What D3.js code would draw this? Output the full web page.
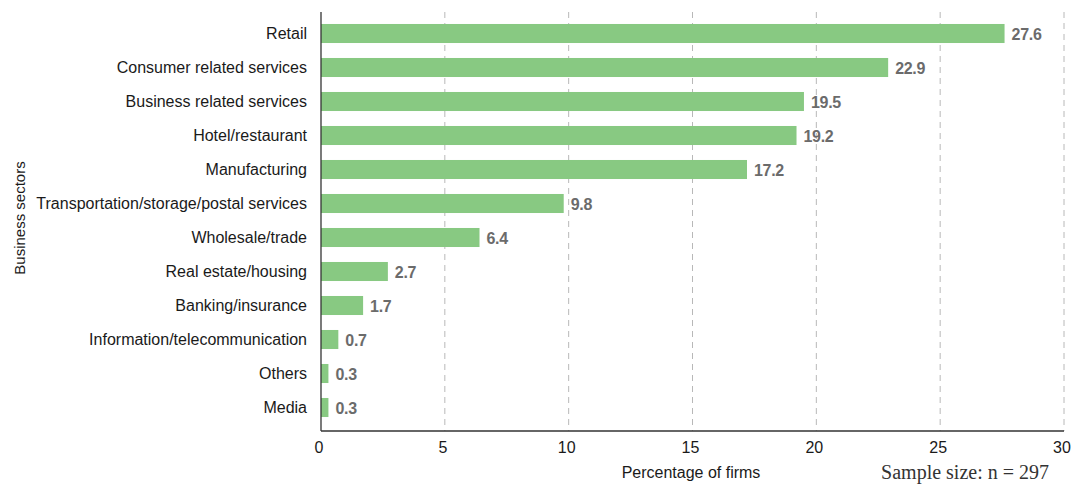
<!DOCTYPE html>
<html>
<head>
<meta charset="utf-8">
<script src="https://cdn.jsdelivr.net/npm/d3@7"></script>
<style>
  body { margin: 0; background: #fff; }
  svg { display: block; font-family: "Liberation Sans", Arial, sans-serif; }
</style>
</head>
<body>
<svg class="main" width="1073" height="486"></svg>
<script>
'use strict';

var sectors = ['Retail', 'Consumer related services', 'Business related services', 'Hotel/restaurant',
    'Manufacturing', 'Transportation/storage/postal services', 'Wholesale/trade', 'Real estate/housing',
    'Banking/insurance', 'Information/telecommunication', 'Others', 'Media'];
var shares = [27.6, 22.9, 19.5, 19.2, 17.2, 9.8, 6.4, 2.7, 1.7, 0.7, 0.3, 0.3];
var xTicks = [0, 5, 10, 15, 20, 25, 30];

(function () {
    var data = sectors.map(function (s, i) { return {name: s, value: shares[i]}; });

    var plotLeft = 321, plotRight = 1064, plotTop = 12, plotBottom = 431;

    var svg = d3.select('svg.main');

    var x = d3.scaleLinear().domain([0, 30]).range([plotLeft, plotRight]);
    var y = d3.scaleBand().domain(sectors).range([16.5, 424.5]).paddingInner(0.44).paddingOuter(0.22);

    // dashed grid
    svg.append('g')
        .selectAll('line')
        .data(xTicks.slice(1))
        .enter()
        .append('line')
        .attr('x1', function (d) { return x(d); })
        .attr('x2', function (d) { return x(d); })
        .attr('y1', plotTop)
        .attr('y2', plotBottom)
        .attr('stroke', '#b8b8b8')
        .attr('stroke-width', 1)
        .attr('stroke-dasharray', '6,5');

    // bars
    svg.append('g')
        .selectAll('rect')
        .data(data)
        .enter()
        .append('rect')
        .attr('x', x(0))
        .attr('y', function (d) { return y(d.name); })
        .attr('width', function (d) { return x(d.value) - x(0); })
        .attr('height', y.bandwidth())
        .attr('fill', '#88c982');

    // value labels
    svg.append('g')
        .selectAll('text')
        .data(data)
        .enter()
        .append('text')
        .attr('x', function (d) { return x(d.value) + 7; })
        .attr('y', function (d) { return y(d.name) + y.bandwidth() / 2; })
        .attr('dy', '0.38em')
        .attr('font-size', 16)
        .attr('font-weight', 'bold')
        .attr('letter-spacing', -0.3)
        .attr('fill', '#6b6b6b')
        .text(function (d) { return d.value.toFixed(1); });

    // category labels
    svg.append('g')
        .selectAll('text')
        .data(sectors)
        .enter()
        .append('text')
        .attr('x', plotLeft - 14)
        .attr('y', function (d) { return y(d) + y.bandwidth() / 2; })
        .attr('dy', '0.36em')
        .attr('text-anchor', 'end')
        .attr('font-size', 16)
        .attr('fill', '#1a1a1a')
        .text(function (d) { return d; });

    // axis lines
    svg.append('line')
        .attr('x1', plotLeft).attr('x2', plotLeft)
        .attr('y1', plotTop).attr('y2', plotBottom)
        .attr('stroke', '#333').attr('stroke-width', 1.3);
    svg.append('line')
        .attr('x1', plotLeft).attr('x2', plotRight)
        .attr('y1', plotBottom).attr('y2', plotBottom)
        .attr('stroke', '#333').attr('stroke-width', 1.3);

    // x tick labels
    svg.append('g')
        .selectAll('text')
        .data(xTicks)
        .enter()
        .append('text')
        .attr('x', function (d) { return x(d) - 2; })
        .attr('y', 453)
        .attr('text-anchor', 'middle')
        .attr('font-size', 16)
        .attr('fill', '#1a1a1a')
        .text(function (d) { return d; });

    svg.append('text')
        .attr('x', 691)
        .attr('y', 478)
        .attr('text-anchor', 'middle')
        .attr('font-size', 16)
        .attr('fill', '#1a1a1a')
        .text('Percentage of firms');

    svg.append('text')
        .attr('transform', 'translate(25,218) rotate(-90)')
        .attr('text-anchor', 'middle')
        .attr('font-size', 15)
        .attr('fill', '#1a1a1a')
        .text('Business sectors');

    svg.append('text')
        .attr('x', 1049)
        .attr('y', 479)
        .attr('text-anchor', 'end')
        .attr('font-family', '"Liberation Serif", "DejaVu Serif", serif')
        .attr('font-size', 20)
        .attr('fill', '#333')
        .text('Sample size: n = 297');
})();
</script>
</body>
</html>
